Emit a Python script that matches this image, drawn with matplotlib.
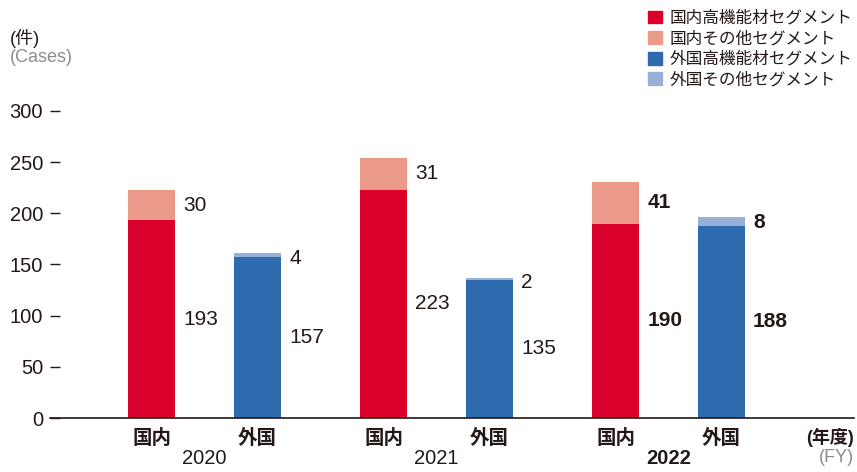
import matplotlib.pyplot as plt
import numpy as np
from matplotlib.patches import Patch

plt.rcParams['font.family'] = ['Liberation Sans', 'Noto Sans CJK JP']

years = ['2020', '2021', '2022']
dom_high = [193, 223, 190]
dom_other = [30, 31, 41]
for_high = [157, 135, 188]
for_other = [4, 2, 8]
bold_years = [False, False, True]

c_red = '#DA002C'
c_salmon = '#EB9A88'
c_blue = '#2D6AAE'
c_lblue = '#9AAFD8'
txt = '#231815'
gray = '#8C8C8C'

fig = plt.figure(figsize=(8.57, 4.72), dpi=100)
ax = fig.add_axes([50 / 857, 54 / 472, 804 / 857, 307 / 472])

x = np.arange(len(years))
off = 0.228
w = 0.203
xd = x - off
xf = x + off

ax.bar(xd, dom_high, w, color=c_red)
ax.bar(xd, dom_other, w, bottom=dom_high, color=c_salmon)
ax.bar(xf, for_high, w, color=c_blue)
ax.bar(xf, for_other, w, bottom=for_high, color=c_lblue)

# value labels
for i in range(len(years)):
    fw = 'bold' if bold_years[i] else 'normal'
    tx = w / 2 + 0.035
    ax.text(xd[i] + tx, dom_high[i] / 2, str(dom_high[i]), fontsize=15, color=txt,
            va='center', ha='left', fontweight=fw)
    ax.text(xd[i] + tx, dom_high[i] + dom_other[i] / 2, str(dom_other[i]), fontsize=15,
            color=txt, va='center', ha='left', fontweight=fw)
    ax.text(xf[i] + tx, for_high[i] / 2, str(for_high[i]), fontsize=15, color=txt,
            va='center', ha='left', fontweight=fw)
    ax.text(xf[i] + tx, for_high[i] + for_other[i] - 5, str(for_other[i]), fontsize=15,
            color=txt, va='center', ha='left', fontweight=fw)
    ax.text(x[i], -40, years[i], fontsize=14.5, color=txt, ha='center', va='center',
            fontweight=fw)

ax.set_xlim(-0.666, 2.80)
ax.set_ylim(0, 300)
ax.set_yticks([0, 50, 100, 150, 200, 250, 300])
ax.tick_params(axis='y', direction='in', length=7, width=1, color=txt, pad=5,
               labelsize=14.5, labelcolor=txt)
ax.set_xticks(np.concatenate([xd, xf]))
ax.set_xticklabels(['国内'] * 3 + ['外国'] * 3, fontsize=14, color=txt, fontweight='bold')
ax.tick_params(axis='x', length=0, pad=8)
for s in ['top', 'right', 'left']:
    ax.spines[s].set_visible(False)
ax.spines['bottom'].set_color(txt)
ax.spines['bottom'].set_linewidth(1.2)

fig.text(10 / 857, 1 - 38 / 472, '(件)', fontsize=13, color=txt, va='center')
fig.text(10 / 857, 1 - 57 / 472, '(Cases)', fontsize=13, color=gray, va='center')
fig.text(854 / 857, 1 - 437 / 472, '(年度)', fontsize=13, color=txt, va='center', ha='right',
         fontweight='bold')
fig.text(854 / 857, 1 - 458 / 472, '(FY)', fontsize=13, color=gray, va='center', ha='right')

handles = [Patch(color=c_red), Patch(color=c_salmon), Patch(color=c_blue), Patch(color=c_lblue)]
labels = ['国内高機能材セグメント', '国内その他セグメント', '外国高機能材セグメント', '外国その他セグメント']
fig.legend(handles, labels, loc='upper left', bbox_to_anchor=(640 / 857, 1 - 2 / 472),
           frameon=False, fontsize=12, handlelength=0.8, handleheight=0.8,
           handletextpad=0.5, labelspacing=0.3, borderpad=0, labelcolor=txt)

fig.savefig('out.png', dpi=100)
